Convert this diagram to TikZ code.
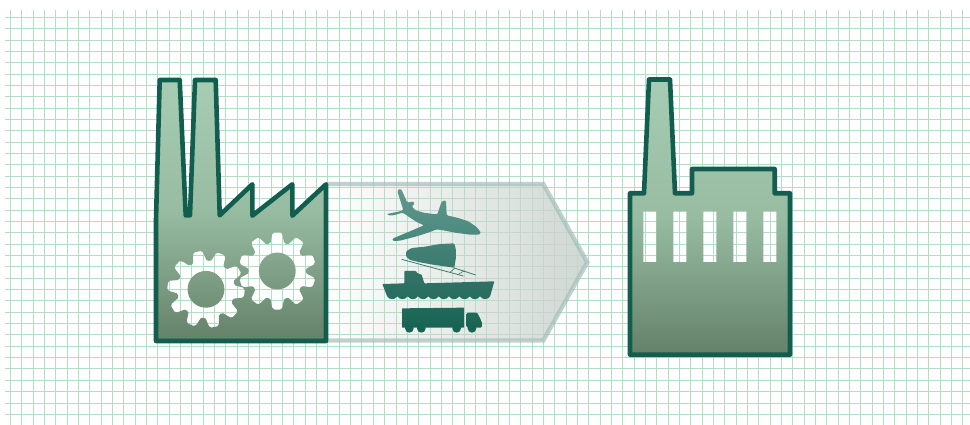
\documentclass[tikz,border=0pt]{standalone}
\usetikzlibrary{fadings}
\definecolor{gridc}{HTML}{B2DFC4}
\definecolor{strk}{HTML}{125E4E}
\definecolor{ftop}{HTML}{A6CCB3}
\definecolor{fmid}{HTML}{97BCA2}
\definecolor{fbot}{HTML}{648169}
\definecolor{arrowfillc}{HTML}{CBD4CE}
\definecolor{arrowlinec}{HTML}{A3BDBA}
\definecolor{planeT}{RGB}{98,152,142}
\definecolor{planeB}{RGB}{72,136,124}
\definecolor{cargoT}{RGB}{70,130,118}
\definecolor{cargoB}{RGB}{58,122,110}
\definecolor{shipT}{RGB}{52,116,104}
\definecolor{shipB}{RGB}{38,108,94}
\definecolor{truckT}{RGB}{32,106,90}
\definecolor{truckB}{RGB}{24,100,84}
\tikzset{
 gridline/.style={draw=gridc,line width=1pt},
 factoryfill/.style={top color=ftop,bottom color=fbot,middle color=fmid,even odd rule,draw=none},
 factoryline/.style={draw=strk,line width=4.6pt,line join=round,line cap=round},
 zoomA/.style={x=0.33333pt,y=-0.33333pt},
 icon/.style={draw=none,rounded corners=1.2pt},
}
\newcommand\gearpath[3]{([shift={(#1,#2)}]#3-13:29.5) \foreach \k in {0,...,9} {
 -- ([shift={(#1,#2)}]#3+36*\k-8:37) -- ([shift={(#1,#2)}]#3+36*\k-4.5:38.7)
 -- ([shift={(#1,#2)}]#3+36*\k+4.5:38.7) -- ([shift={(#1,#2)}]#3+36*\k+8:37)
 -- ([shift={(#1,#2)}]#3+36*\k+13:29.5) -- ([shift={(#1,#2)}]#3+36*\k+18:28.5)
 -- ([shift={(#1,#2)}]#3+36*\k+23:29.5)} -- cycle}
\begin{document}
\begin{tikzpicture}[x=1pt,y=-1pt]
\useasboundingbox (0,0) rectangle (970,425);
\fill[white] (0,0) rectangle (970,425);
% grid
\foreach \i in {0,...,84} \draw[gridline] ({10.5+11.3386*\i},10) -- ({10.5+11.3386*\i},425);
\foreach \j in {0,...,35} \draw[gridline] (5,{17.5+11.3386*\j}) -- (970,{17.5+11.3386*\j});
% transport arrow
\coordinate (aTL) at (326,184);
\coordinate (aTR) at (543.3,184);
\coordinate (aTip) at (587.3,262.3);
\coordinate (aBR) at (543.3,340.5);
\coordinate (aBL) at (326,340.5);
\fill[arrowfillc,path fading=west,fill opacity=0.9] (aTL) -- (aTR) -- (aTip) -- (aBR) -- (aBL) -- cycle;
\draw[arrowlinec,line width=4.4pt,opacity=0.68,line join=miter] (aTL) -- (aTR) -- (aTip) -- (aBR) -- (aBL);
% plane
\begin{scope}[shift={(380,182)},zoomA]
\shade[icon,top color=planeT,bottom color=planeB]
 (52,28) -- (56,21) -- (64,22) -- (82,62) -- (100,58) -- (104,66) -- (95,72) -- (105,84) -- (130,92) -- (168,97) -- (172,97) -- (185,58) -- (198,55) -- (200,100) -- (235,108) -- (265,118) -- (290,135) -- (303,152) -- (298,158) -- (270,158) -- (225,152) -- (190,145) -- (170,142) -- (150,150) -- (110,163) -- (60,176) -- (38,177) -- (37,170) -- (85,150) -- (132,130) -- (110,120) -- (80,100) -- (68,92) -- (40,100) -- (24,100) -- (21,96) -- (60,88) -- (70,84) -- cycle;
\end{scope}
% cargo drop and ramp, ship
\begin{scope}[shift={(375,240)},zoomA]
\shade[icon,top color=cargoT,bottom color=cargoB]
 (93,34) -- (110,24) -- (150,20) -- (195,12) -- (238,10) -- (243,30) -- (243,52) -- (238,83) -- (215,80) -- (180,75) -- (140,68) -- (105,60) -- (93,50) -- cycle;
\draw[draw=cargoB,line width=0.8pt] (80,58) -- (265,108) (235,83) -- (302,105);
\draw[draw=cargoB,line width=0.6pt] (240,84) -- (226,96) (268,92) -- (250,103);
\shade[icon,rounded corners=0.6pt,top color=shipT,bottom color=shipB]
 (88,93) -- (122,93) -- (128,100) -- (140,104) -- (148,130) -- (358,124) -- (346,167)
 \foreach \x in {346,315,284,253,222,191,160,129,98,67} { .. controls (\x-7,180) and (\x-24,180) .. (\x-31,168) }
 -- (22,132) -- (88,130) -- cycle;
\end{scope}
% truck
\begin{scope}[shift={(390,295)},zoomA]
\shade[icon,rounded corners=0.5pt,top color=truckT,bottom color=truckB]
 (36,40) -- (222,38) -- (222,98) -- (36,98) -- cycle;
\shade[icon,top color=truckT,bottom color=truckB]
 (230,53) -- (262,53) -- (275,80) -- (276,98) -- (230,98) -- cycle;
\fill[truckB] (58,100) circle[radius=13] (94,100) circle[radius=13] (200,100) circle[radius=13] (246,100) circle[radius=13];
\end{scope}
% factory with gears
\shade[factoryfill] (159.7,80) -- (179.7,80) -- (185.7,215.3) -- (190,215.3) -- (195,80) -- (215.7,80) -- (219.7,215.3) -- (252.3,184.3) -- (252.3,215.7) -- (292.3,184.3) -- (292.3,215.7) -- (326,184.3) -- (326,341) -- (156,341) -- (156,220) -- cycle
 \gearpath{206}{289.3}{-102.6} (206,289.3) circle[radius=18.4]
 \gearpath{277.3}{271}{-90} (277.3,271) circle[radius=18.4];
\draw[factoryline] (159.7,80) -- (179.7,80) -- (185.7,215.3) -- (190,215.3) -- (195,80) -- (215.7,80) -- (219.7,215.3) -- (252.3,184.3) -- (252.3,215.7) -- (292.3,184.3) -- (292.3,215.7) -- (326,184.3) -- (326,341) -- (156,341) -- (156,220) -- cycle;
% factory with windows
\shade[factoryfill] (630,193.3) -- (644,193.3) -- (649,79.5) -- (670,79.5) -- (675,193.3) -- (692,193.3) -- (692,169) -- (774.7,169) -- (774.7,193.3) -- (790,193.3) -- (790,354.7) -- (630,354.7) -- cycle
 (643.3,211.7) rectangle (656.3,262) (673.3,211.7) rectangle (686.3,262) (703.3,211.7) rectangle (716.3,262) (733.3,211.7) rectangle (746.3,262) (763.3,211.7) rectangle (776.3,262);
\draw[factoryline] (630,193.3) -- (644,193.3) -- (649,79.5) -- (670,79.5) -- (675,193.3) -- (692,193.3) -- (692,169) -- (774.7,169) -- (774.7,193.3) -- (790,193.3) -- (790,354.7) -- (630,354.7) -- cycle;
\end{tikzpicture}
\end{document}
